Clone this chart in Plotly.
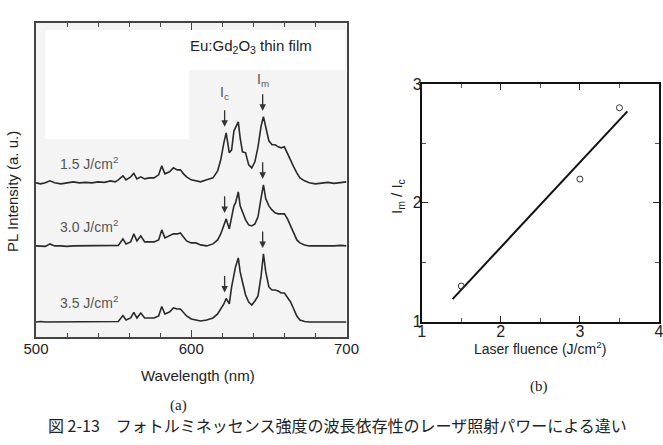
import plotly.graph_objects as go

# ---------------- data: panel (a) PL spectra ----------------
wavelength = [500, 503, 506, 509, 512, 516, 520, 524, 528, 532, 536, 540, 544, 548, 551, 553,
              556, 558, 561, 563, 565, 567.5, 570, 573, 576, 579, 581, 583, 586, 588.5, 591, 593,
              595, 597, 600, 603, 606, 610, 614, 617, 619, 621, 622.5, 624.5, 626, 627.5, 628.5,
              630.3, 631.5, 633, 635, 637, 639, 641, 643, 645, 646.5, 648, 650, 652, 654, 656,
              658, 660, 662, 664, 666, 668, 670, 673, 676, 680, 684, 688, 692, 696, 700]

pl_15 = [0, -1, 0, 2, 0, -1, 0, 1, 0, 0.5, 0, 1, 0.5, 2, 1, 3,
         7, 3, 6, 9.5, 4, 6, 4, 5, 5, 8, 17, 9, 11, 15, 13, 13,
         9, 6, 3, 2, 1, 3, 5, 12, 23, 40, 50, 30, 33, 52, 55,
         61, 45, 31, 30, 18, 15, 21, 36, 57, 66, 56, 42, 38, 38, 36,
         35, 36, 29, 23, 16, 10, 5, 2, 0, -1, 0, 0.5, -0.5, 0, 1]

pl_30 = [0, 0, -0.5, 2, 0, 0, -0.5, 0, 0, 0.5, 0, 0, 0, 0, 0, 0.5,
         7, 2, 4, 12, 5, 10, 4, 4, 4, 6, 16, 8, 10, 12, 12, 13,
         9, 5, 3, 3, 1, 0, 2, 6, 12, 20, 27, 17, 30, 40, 43,
         54, 40, 33, 26, 21, 20, 22, 29, 48, 61, 47, 40, 36, 33, 32,
         32, 32, 27, 20, 12, 6, 3, 1, 0, 0, -0.5, 0, 0, 0.5, 0]

pl_35 = [0, 0.5, 0, 0, 0.5, 0, 0, 0, 0.5, 0, 0, 0, 0, 0.5, 0, 0.5,
         6.5, 2, 4, 9.5, 4, 9, 4, 4, 4, 6, 15.5, 8, 10, 14, 13, 13,
         9, 6, 3, 2, 1, 2, 4, 8, 13, 18, 23.5, 18, 35, 48, 55,
         64, 50, 40, 27, 20, 17, 21, 26, 46, 68, 50, 35, 32, 32, 31,
         29, 29, 25, 20, 13, 6, 2, 0.5, 0, 0, 0, 0, 0.5, 0, 0]

series_labels = ["1.5 J/cm<sup>2</sup>", "3.0 J/cm<sup>2</sup>", "3.5 J/cm<sup>2</sup>"]
series_values = [pl_15, pl_30, pl_35]
offsets = [154, 91, 15]
ic_wl, im_wl = 621.5, 646.0   # I_c and I_m line positions (nm)

# ---------------- data: panel (b) ----------------
fluence = [1.5, 3.0, 3.5]
ratio = [1.3, 2.2, 2.8]
fit_x = [1.39, 3.6]
fit_y = [1.19, 2.77]

W, H = 663, 445
def px(x): return x / W
def py(y): return 1 - y / H

fig = go.Figure()
LC = "#2a2a2a"

for vals, off in zip(series_values, offsets):
    fig.add_trace(go.Scatter(x=wavelength, y=[v + off for v in vals], mode="lines",
                             line=dict(color=LC, width=1.6), xaxis="x", yaxis="y",
                             showlegend=False, hoverinfo="skip"))

fig.add_trace(go.Scatter(x=fit_x, y=fit_y, mode="lines", line=dict(color="#111", width=2),
                         xaxis="x2", yaxis="y2", showlegend=False))
fig.add_trace(go.Scatter(x=fluence, y=ratio, mode="markers",
                         marker=dict(symbol="circle-open", size=6, color="#333", line=dict(width=1)),
                         xaxis="x2", yaxis="y2", showlegend=False))

shapes = [
    dict(type="rect", xref="x domain", yref="y domain", x0=0, x1=1, y0=0, y1=1,
         fillcolor="#f4f4f4", line=dict(width=0), layer="below"),
    dict(type="rect", xref="paper", yref="paper", x0=px(45), x1=px(189), y0=py(139), y1=py(30),
         fillcolor="white", line=dict(width=0), layer="below"),
    dict(type="rect", xref="paper", yref="paper", x0=px(189), x1=px(345), y0=py(70), y1=py(30),
         fillcolor="white", line=dict(width=0), layer="below"),
]

ann = []
FONT = "Liberation Sans"
# arrows + series labels
i_c = wavelength.index(622.5)
i_m = wavelength.index(646.5)
for k, (vals, off, lab) in enumerate(zip(series_values, offsets, series_labels)):
    for idx, wl in ((i_c, ic_wl), (i_m, im_wl)):
        tip = vals[idx] + off + 6
        ann.append(dict(x=wl, y=tip, ax=wl, ay=tip + 18, xref="x", yref="y", axref="x", ayref="y",
                        showarrow=True, arrowhead=2, arrowsize=1, arrowwidth=1.3,
                        arrowcolor="#333", text=""))
    ann.append(dict(x=514.2, y=off + 20, xref="x", yref="y", text=lab, showarrow=False,
                    xanchor="left", yanchor="middle", font=dict(family=FONT, size=14, color="#555")))


def txt(x, y, text, size, family=FONT, angle=0, color="#222"):
    return dict(x=px(x), y=py(y), xref="paper", yref="paper", text=text, showarrow=False,
                xanchor="center", yanchor="middle", textangle=angle,
                font=dict(family=family, size=size, color=color))


ann += [
    dict(x=ic_wl, y=244, xref="x", yref="y", text="I<sub>c</sub>", showarrow=False,
         xanchor="center", yanchor="middle", font=dict(family=FONT, size=14, color="#555")),
    dict(x=im_wl, y=257, xref="x", yref="y", text="I<sub>m</sub>", showarrow=False,
         xanchor="center", yanchor="middle", font=dict(family=FONT, size=14, color="#555")),
    dict(x=638.7, y=290, xref="x", yref="y", text="Eu:Gd<sub>2</sub>O<sub>3</sub> thin film",
         showarrow=False, xanchor="center", yanchor="middle",
         font=dict(family=FONT, size=15, color="#222")),
    txt(12, 192, "PL Intensity (a. u.)", 15, angle=-90),
    txt(198, 375, "Wavelength (nm)", 15),
    txt(398, 197, "I<sub>m</sub> / I<sub>c</sub>", 15, angle=-90),
    txt(540, 348, "Laser fluence (J/cm<sup>2</sup>)", 14),
    txt(178, 405, "(a)", 15, family="Liberation Serif"),
    txt(539, 386, "(b)", 15, family="Liberation Serif"),
    txt(337, 425, "図 2-13　フォトルミネッセンス強度の波長依存性のレーザ照射パワーによる違い", 16,
        family="Noto Sans CJK JP"),
]

fig.update_layout(
    width=W, height=H, margin=dict(l=0, r=0, t=0, b=0, pad=0, autoexpand=False),
    paper_bgcolor="white", plot_bgcolor="rgba(0,0,0,0)",
    font=dict(family=FONT),
    shapes=shapes, annotations=ann,
    xaxis=dict(domain=[px(36), px(346.5)], range=[500, 700], tickvals=[500, 600, 700],
               ticks="inside", ticklen=7, tickwidth=1.3, tickcolor="#444",
               minor=dict(dtick=20, ticks="inside", ticklen=4, tickcolor="#444", tickwidth=1.3),
               showline=True, linecolor="#444", linewidth=1.8, mirror="ticks",
               showgrid=False, zeroline=False, anchor="y", automargin=False,
               ticklabelstandoff=-3, ticklabeloverflow="allow",
               tickfont=dict(family=FONT, size=15, color="#222")),
    yaxis=dict(domain=[py(337), py(22.7)], range=[0, 314], showticklabels=False, ticks="",
               showline=True, linecolor="#444", linewidth=1.8, mirror=True,
               showgrid=False, zeroline=False, anchor="x", automargin=False),
    xaxis2=dict(domain=[px(421.7), px(659)], range=[1, 4], tickvals=[1, 2, 3, 4],
                ticks="inside", ticklen=6, tickcolor="#222", tickwidth=1,
                minor=dict(dtick=0.5, ticks="inside", ticklen=4, tickcolor="#555"),
                showline=True, linecolor="#111", linewidth=1.8, mirror="ticks",
                showgrid=False, zeroline=False, anchor="y2", automargin=False,
                ticklabelstandoff=-6, ticklabeloverflow="allow",
                tickfont=dict(family=FONT, size=16, color="#222")),
    yaxis2=dict(domain=[py(321.7), py(84)], range=[1, 3], tickvals=[1, 2, 3],
                ticks="inside", ticklen=6, tickcolor="#222", tickwidth=1,
                minor=dict(dtick=0.5, ticks="inside", ticklen=4, tickcolor="#555"),
                showline=True, linecolor="#111", linewidth=1.8, mirror="ticks",
                showgrid=False, zeroline=False, anchor="x2", automargin=False,
                ticklabelstandoff=-5,
                tickfont=dict(family=FONT, size=16, color="#222")),
)

fig.write_html("out.html")
